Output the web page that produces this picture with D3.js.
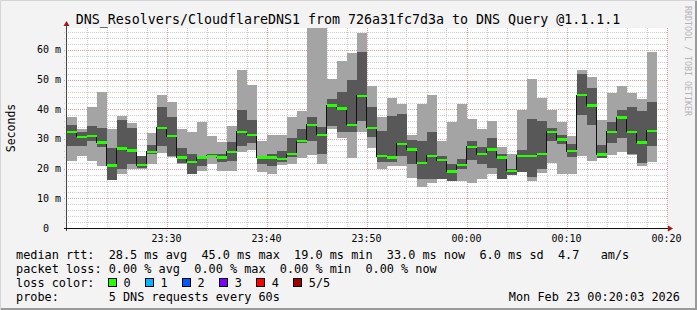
<!DOCTYPE html>
<html>
<head>
<meta charset="utf-8">
<script src="https://cdn.jsdelivr.net/npm/d3@7"></script>
<style>
    html, body { margin: 0; padding: 0; background: #fff; }
    svg { display: block; }
    text { font-family: "DejaVu Sans Mono", monospace; fill: #000; white-space: pre; }
</style>
</head>
<body>
<div id="chart"></div>
<script>
(function () {
    "use strict";

    // one smokeping step per minute (start of step)
    const stepStart = [
        "23:20", "23:21", "23:22", "23:23", "23:24", "23:25", "23:26", "23:27", "23:28", "23:29",
        "23:30", "23:31", "23:32", "23:33", "23:34", "23:35", "23:36", "23:37", "23:38", "23:39",
        "23:40", "23:41", "23:42", "23:43", "23:44", "23:45", "23:46", "23:47", "23:48", "23:49",
        "23:50", "23:51", "23:52", "23:53", "23:54", "23:55", "23:56", "23:57", "23:58", "23:59",
        "00:00", "00:01", "00:02", "00:03", "00:04", "00:05", "00:06", "00:07", "00:08", "00:09",
        "00:10", "00:11", "00:12", "00:13", "00:14", "00:15", "00:16", "00:17", "00:18"
    ];

    // sorted pings per step, ms
    const pingMax = [
        37.5, 33.3, 40.7, 45.8, 33.3, 37.7, 35.5, 24.2, 32.1, 44.8,
        42.4, 33.3, 32.3, 35.8, 31.0, 29.0, 34.3, 53.2, 48.2, 29.3,
        31.3, 31.3, 37.4, 39.4, 70.0, 70.0, 50.1, 56.3, 59.1, 65.6,
        47.8, 37.4, 43.8, 41.8, 31.3, 41.8, 44.8, 29.3, 35.8, 41.8,
        36.7, 33.3, 36.1, 27.3, 24.9, 39.7, 50.2, 43.8, 39.7, 35.6,
        31.0, 53.2, 51.0, 36.4, 45.4, 47.8, 45.4, 43.4, 59.4
    ];
    const ping4 = [
        34.7, 32.2, 34.3, 33.8, 26.8, 36.4, 33.8, 24.2, 28.0, 40.7,
        37.4, 27.0, 24.9, 24.3, 25.1, 24.9, 29.1, 39.7, 36.4, 24.2,
        24.9, 25.9, 30.3, 33.3, 37.4, 34.1, 43.4, 45.9, 49.9, 59.4,
        40.7, 32.7, 37.7, 38.4, 29.8, 29.3, 32.3, 24.3, 21.4, 23.1,
        29.3, 27.3, 30.2, 25.1, 19.8, 26.2, 36.7, 36.2, 33.6, 31.3,
        28.3, 51.9, 47.3, 28.0, 35.8, 39.7, 40.7, 39.4, 42.6
    ];
    const median = [
        32.4, 30.7, 31.0, 28.8, 21.0, 26.8, 26.2, 21.2, 25.7, 33.8,
        31.0, 23.7, 22.3, 23.8, 24.3, 23.8, 25.7, 32.4, 31.4, 23.7,
        23.8, 23.2, 24.9, 29.3, 34.8, 31.4, 41.3, 40.3, 34.8, 44.5,
        33.8, 24.2, 23.7, 28.4, 26.4, 21.9, 24.3, 22.9, 19.0, 21.2,
        27.3, 24.9, 26.4, 23.8, 19.3, 24.3, 24.3, 24.9, 32.4, 29.8,
        25.9, 44.8, 41.3, 24.8, 32.4, 37.3, 32.4, 28.8, 32.7
    ];
    const ping2 = [
        27.7, 27.7, 29.4, 27.4, 16.1, 19.8, 21.4, 20.3, 24.8, 27.7,
        24.2, 21.8, 18.3, 21.0, 23.8, 22.3, 22.5, 27.7, 28.6, 21.5,
        21.0, 22.3, 23.8, 28.5, 29.3, 24.8, 34.3, 32.4, 32.4, 36.0,
        30.5, 22.3, 22.3, 24.2, 21.4, 16.4, 16.4, 16.4, 15.9, 19.8,
        22.9, 21.4, 20.3, 16.4, 18.0, 19.0, 17.3, 20.0, 29.3, 28.3,
        23.8, 38.0, 34.7, 23.7, 28.8, 30.2, 24.8, 21.8, 27.7
    ];
    const pingMin = [
        22.7, 24.2, 22.7, 21.0, 16.1, 18.2, 19.8, 19.9, 21.5, 25.4,
        24.0, 21.4, 18.3, 19.3, 21.6, 19.3, 19.3, 25.7, 26.2, 19.0,
        18.3, 21.2, 21.4, 23.7, 24.6, 21.5, 33.3, 30.4, 23.7, 32.4,
        26.8, 19.8, 21.0, 21.0, 16.9, 13.8, 15.2, 16.4, 15.9, 15.9,
        15.0, 16.4, 18.3, 16.4, 18.0, 19.0, 15.9, 18.6, 21.8, 18.3,
        18.3, 24.2, 22.7, 23.7, 24.6, 25.7, 24.6, 21.0, 22.3
    ];

    const yTickValues = [0, 10, 20, 30, 40, 50, 60];
    const yTickLabels = ["0  ", "10 m", "20 m", "30 m", "40 m", "50 m", "60 m"];
    const xTickLabels = ["23:30", "23:40", "23:50", "00:00", "00:10", "00:20"];

    const lossLabels = ["0", "1", "2", "3", "4", "5/5"];
    const lossColors = ["#26ff00", "#00b8ff", "#0059ff", "#7e00ff", "#ff0000", "#a10000"];

    const titleText = "DNS_Resolvers/CloudflareDNS1 from 726a31fc7d3a to DNS Query @1.1.1.1";
    const legendLines = [
        "median rtt:  28.5 ms avg  45.0 ms max  19.0 ms min  33.0 ms now  6.0 ms sd  4.7   am/s",
        "packet loss: 0.00 % avg  0.00 % max  0.00 % min  0.00 % now",
        "loss color:",
        "probe:       5 DNS requests every 60s"
    ];
    const stampText = "Mon Feb 23 00:20:03 2026";

    function toDate(hm) {
        const parts = hm.split(":").map(Number);
        return new Date(Date.UTC(2026, 1, parts[0] >= 12 ? 22 : 23, parts[0], parts[1]));
    }

    const width = 697;
    const height = 310;
    const left = 67, right = 667, top = 28, bottom = 228;

    const steps = stepStart.map(function (s, i) {
        const t0 = toDate(s);
        return {
            t0: t0,
            t1: d3.utcMinute.offset(t0, 1),
            max: pingMax[i], p4: ping4[i], med: median[i], p2: ping2[i], min: pingMin[i]
        };
    });

    const start = new Date(Date.UTC(2026, 1, 22, 23, 20, 3));
    const end = new Date(Date.UTC(2026, 1, 23, 0, 20, 3));

    const x = d3.scaleUtc().domain([start, end]).range([left, right]);
    const y = d3.scaleLinear().domain([0, 67.4]).range([bottom, top]);

    const svg = d3.select("#chart").append("svg")
        .attr("width", width)
        .attr("height", height);

    // background + 3d frame
    svg.append("rect").attr("width", width).attr("height", height).attr("fill", "#f3f3f3");
    svg.append("path").attr("d", "M0.5," + height + "V0.5H" + width)
        .attr("fill", "none").attr("stroke", "#d4d4d4");
    svg.append("path").attr("d", "M1," + (height - 1) + "H" + (width - 1) + "V1")
        .attr("fill", "none").attr("stroke", "#9a9a9a").attr("stroke-width", 2);

    svg.append("rect")
        .attr("x", left).attr("y", top)
        .attr("width", right - left).attr("height", bottom - top)
        .attr("fill", "#fff");

    svg.append("clipPath").attr("id", "plot-clip")
        .append("rect")
        .attr("x", left).attr("y", top)
        .attr("width", right - left).attr("height", bottom - top);

    // grid
    const grid = svg.append("g")
        .attr("fill", "none")
        .attr("stroke-dasharray", "1,1")
        .attr("shape-rendering", "crispEdges");

    const majorTimes = x.ticks(d3.utcMinute.every(10));
    const minorTimes = x.ticks(d3.utcMinute.every(2))
        .filter(function (t) { return t.getUTCMinutes() % 10 !== 0; });

    grid.selectAll(".vminor").data(minorTimes).enter().append("line")
        .attr("x1", function (d) { return Math.round(x(d)) + 0.5; })
        .attr("x2", function (d) { return Math.round(x(d)) + 0.5; })
        .attr("y1", top).attr("y2", bottom + 2)
        .attr("stroke", "#cdcdcd");

    const minorValues = d3.range(2, 67.4, 2).filter(function (v) { return v % 10 !== 0; });

    grid.selectAll(".hminor").data(minorValues).enter().append("line")
        .attr("x1", left - 3).attr("x2", right)
        .attr("y1", function (d) { return Math.round(y(d)) + 0.5; })
        .attr("y2", function (d) { return Math.round(y(d)) + 0.5; })
        .attr("stroke", "#cdcdcd");

    grid.selectAll(".vmajor").data(majorTimes).enter().append("line")
        .attr("x1", function (d) { return Math.round(x(d)) + 0.5; })
        .attr("x2", function (d) { return Math.round(x(d)) + 0.5; })
        .attr("y1", top).attr("y2", bottom + 3)
        .attr("stroke", "#e4a0a0");

    grid.selectAll(".hmajor").data(yTickValues.slice(1)).enter().append("line")
        .attr("x1", left - 3).attr("x2", right)
        .attr("y1", function (d) { return Math.round(y(d)) + 0.5; })
        .attr("y2", function (d) { return Math.round(y(d)) + 0.5; })
        .attr("stroke", "#e4a0a0");

    // smoke
    const plot = svg.append("g")
        .attr("clip-path", "url(#plot-clip)")
        .attr("shape-rendering", "crispEdges");

    plot.selectAll(".outer").data(steps).enter().append("rect")
        .attr("x", function (d) { return x(d.t0); })
        .attr("width", function (d) { return x(d.t1) - x(d.t0); })
        .attr("y", function (d) { return y(d.max); })
        .attr("height", function (d) { return y(d.min) - y(d.max); })
        .attr("fill", "#a4a4a4");

    plot.selectAll(".inner").data(steps).enter().append("rect")
        .attr("x", function (d) { return x(d.t0); })
        .attr("width", function (d) { return x(d.t1) - x(d.t0); })
        .attr("y", function (d) { return y(d.p4); })
        .attr("height", function (d) { return y(d.p2) - y(d.p4); })
        .attr("fill", "#585858");

    const stepLine = d3.line()
        .curve(d3.curveStepAfter)
        .x(function (d) { return x(d[0]); })
        .y(function (d) { return y(d[1]); });

    const linePoints = steps.map(function (d) { return [d.t0, d.med]; });
    linePoints.push([steps[steps.length - 1].t1, steps[steps.length - 1].med]);

    plot.append("path")
        .attr("d", stepLine(linePoints))
        .attr("fill", "none")
        .attr("stroke", "#111")
        .attr("stroke-width", 1);

    plot.selectAll(".median").data(steps).enter().append("rect")
        .attr("x", function (d) { return x(d.t0); })
        .attr("width", function (d) { return x(d.t1) - x(d.t0); })
        .attr("y", function (d) { return y(d.med) - 1.2; })
        .attr("height", 2.5)
        .attr("fill", lossColors[0]);

    // axes
    svg.append("line")
        .attr("x1", left - 0.5).attr("x2", left - 0.5)
        .attr("y1", bottom + 3).attr("y2", top - 3)
        .attr("stroke", "#444");
    svg.append("line")
        .attr("x1", left - 3).attr("x2", right + 3)
        .attr("y1", bottom + 0.5).attr("y2", bottom + 0.5)
        .attr("stroke", "#111");
    svg.append("path")
        .attr("d", "M" + (left - 3.5) + "," + (top - 2) + "L" + (left - 0.5) + "," + (top - 7) +
            "L" + (left + 2.5) + "," + (top - 2) + "Z")
        .attr("fill", "#9b1c1c");
    svg.append("path")
        .attr("d", "M" + (right + 1) + "," + (bottom - 2.5) + "L" + (right + 6) + "," + (bottom + 0.5) +
            "L" + (right + 1) + "," + (bottom + 3.5) + "Z")
        .attr("fill", "#9b1c1c");

    // tick labels
    svg.selectAll(".ylab").data(yTickValues).enter().append("text")
        .attr("x", left - 6)
        .attr("y", function (d) { return y(d) + 3.5; })
        .attr("text-anchor", "end")
        .style("font-size", "10px")
        .text(function (d, i) { return yTickLabels[i]; });

    svg.selectAll(".xlab").data(xTickLabels).enter().append("text")
        .attr("x", function (d) { return x(toDate(d)); })
        .attr("y", 241.5)
        .attr("text-anchor", "middle")
        .style("font-size", "10px")
        .text(function (d) { return d; });

    svg.append("text")
        .attr("transform", "translate(14.5,128) rotate(-90)")
        .attr("text-anchor", "middle")
        .style("font-size", "11.5px")
        .text("Seconds");

    svg.append("text")
        .attr("x", 348).attr("y", 24)
        .attr("text-anchor", "middle")
        .style("font-size", "13.3px")
        .text(titleText);

    svg.append("text")
        .attr("transform", "translate(685,6) rotate(90)")
        .style("font-size", "8.3px")
        .style("fill", "#b4b4b4")
        .text("RRDTOOL / TOBI OETIKER");

    // legend
    const legendBase = [258.5, 272.5, 286.5, 300.5];

    svg.selectAll(".legend").data(legendLines).enter().append("text")
        .attr("x", 16)
        .attr("y", function (d, i) { return legendBase[i]; })
        .style("font-size", "11.85px")
        .text(function (d) { return d; });

    svg.append("text")
        .attr("x", 680).attr("y", legendBase[3])
        .attr("text-anchor", "end")
        .style("font-size", "11.85px")
        .text(stampText);

    const swatch = svg.selectAll(".swatch").data(lossLabels).enter().append("g")
        .attr("transform", function (d, i) { return "translate(" + (108 + i * 37.06) + ",0)"; });

    swatch.append("rect")
        .attr("x", 0.5).attr("y", 278.5)
        .attr("width", 8).attr("height", 8)
        .attr("fill", function (d, i) { return lossColors[i]; })
        .attr("stroke", "#000")
        .attr("shape-rendering", "crispEdges");

    swatch.append("text")
        .attr("x", 15.5).attr("y", legendBase[2])
        .style("font-size", "11.85px")
        .text(function (d) { return d; });
}());
</script>
</body>
</html>
